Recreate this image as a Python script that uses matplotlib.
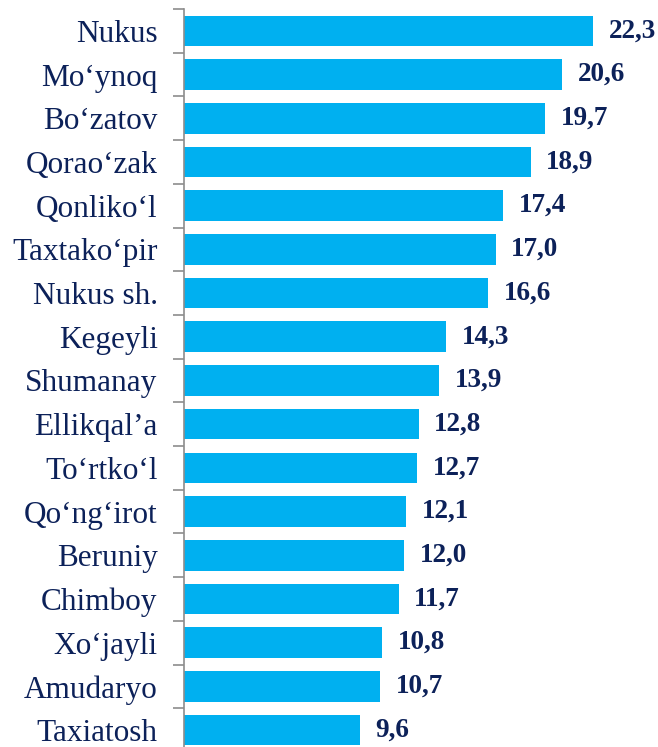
import matplotlib.pyplot as plt
import numpy as np

districts = ['Nukus', 'Mo\u2018ynoq', 'Bo\u2018zatov', 'Qorao\u2018zak', 'Qonliko\u2018l',
             'Taxtako\u2018pir', 'Nukus sh.', 'Kegeyli', 'Shumanay', 'Ellikqal\u2019a',
             'To\u2018rtko\u2018l', 'Qo\u2018ng\u2018irot', 'Beruniy', 'Chimboy',
             'Xo\u2018jayli', 'Amudaryo', 'Taxiatosh']
values = [22.3, 20.6, 19.7, 18.9, 17.4, 17.0, 16.6, 14.3, 13.9, 12.8,
          12.7, 12.1, 12.0, 11.7, 10.8, 10.7, 9.6]

W, H = 658, 747
fig = plt.figure(figsize=(W / 100, H / 100), dpi=100)
# axis line at x~184, category boundaries top ~9px, pitch ~43.7px
pitch = 43.7
top = 9
bottom = top + pitch * len(districts)
ax = fig.add_axes([184 / W, 1 - bottom / H, 1 - 184 / W, (bottom - top) / H])

y = np.arange(len(districts))
ax.barh(y, values, height=0.7, color='#00B0F0', zorder=2)
ax.set_ylim(len(districts) - 0.5, -0.5)
ax.set_xlim(0, (W - 184) / 18.34)

navy = '#0C2159'
for yi, v in zip(y, values):
    ax.text(v + 0.85, yi, f'{v:.1f}'.replace('.', ','), va='center', ha='left',
            fontsize=19.5, fontweight='bold', color=navy, family='Liberation Serif')

ax.set_yticks(y)
ax.set_yticklabels(districts, fontsize=22.5, color=navy, family='Liberation Serif')
ax.tick_params(axis='y', which='major', length=0, pad=19)
ax.set_yticks(np.arange(len(districts) + 1) - 0.5, minor=True)
ax.tick_params(axis='y', which='minor', length=8, color='#8C8C8C', width=1.2)
ax.set_xticks([])

for s in ['top', 'right', 'bottom']:
    ax.spines[s].set_visible(False)
ax.spines['left'].set_color('#8C8C8C')
ax.spines['left'].set_linewidth(1.2)

fig.savefig('out.png', dpi=100)
